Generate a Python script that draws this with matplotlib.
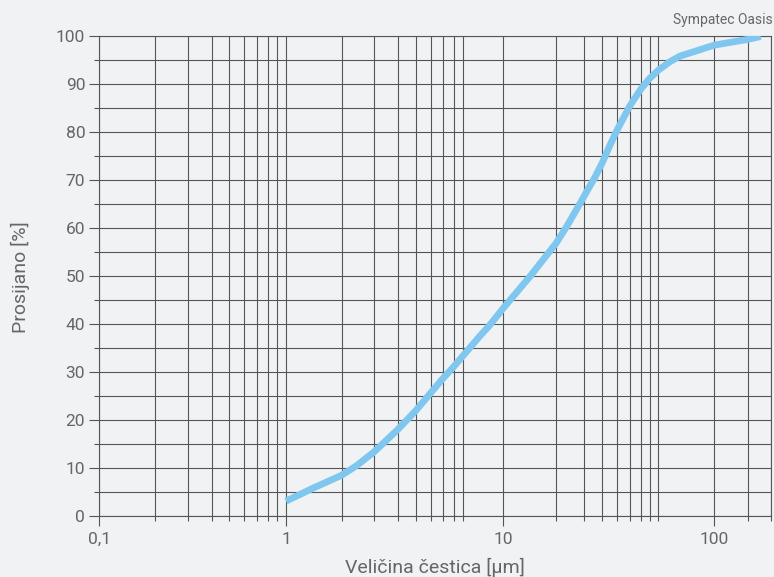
import numpy as np
import matplotlib
matplotlib.use('Agg')
import matplotlib.pyplot as plt
from matplotlib.ticker import FixedLocator, FuncFormatter, MultipleLocator

# particle size distribution (cumulative passing)
size_um = [1, 1.4, 2, 2.41, 3, 4, 5, 6, 7, 8, 9, 9.4, 9.62, 9.86, 10,
           14.2, 20, 23.3, 28.2, 30, 35.6, 40, 44.9, 50, 60, 70, 80, 90,
           91.9, 93.7, 100, 200, 250]
passing = [3.1, 5.8, 8.5, 10.5, 13.4, 18.0, 22.0, 25.8, 28.6, 31.1, 33.5, 37.5, 39.5, 41.9, 43.3,
           49.9, 56.8, 60.3, 65.1, 66.7, 70.6, 73.6, 77.3, 80.5, 85.5, 89.0, 91.2, 92.9,
           94.6, 95.8, 98.1, 99.3, 99.9]

major_x = [0.1, 1, 10, 100]
minor_x = [0.2, 0.3, 0.4, 0.5, 0.6, 0.7, 0.8, 0.9,
           2, 3, 4, 5, 6, 7, 8, 9,
           20, 30, 40, 50, 60, 70, 80, 90,
           200, 300]

# the printed chart's x axis is not a clean log axis: each grid value sits
# at its own spot, so build the scale from those spots (pixels from left)
axis_vals = [0.1, 0.2, 0.3, 0.4, 0.5, 0.6, 0.7, 0.8, 0.9,
             1, 2, 3, 4, 5, 6, 7, 8, 9,
             10, 20, 30, 40, 50, 60, 70, 80, 90,
             100, 200, 300]
axis_pos = [0, 55.7, 89.0, 112.4, 130.0, 145.0, 157.4, 168.4, 178.0,
            186.7, 242.4, 275.0, 298.4, 316.7, 332.0, 343.4, 354.4, 364.2,
            404.0, 456.7, 485.0, 503.0, 518.0, 530.7, 541.7, 550.5, 559.2,
            615.0, 648.7, 671.7]
log_vals = np.log10(axis_vals)


def fwd(x):
    x = np.asarray(x, dtype=float)
    return np.interp(np.log10(np.clip(x, 1e-6, None)), log_vals, axis_pos)


def inv(p):
    return 10 ** np.interp(p, axis_pos, log_vals)


bg = '#f1f2f4'
grid_c = '#555555'
text_c = '#666666'
plt.rcParams['font.family'] = ['Roboto', 'DejaVu Sans']

fig = plt.figure(figsize=(7.74, 5.77), dpi=100, facecolor=bg)
ax = fig.add_axes([99.3 / 774, 61 / 577, (771 - 99.3) / 774, 480 / 577])
ax.set_facecolor(bg)
ax.set_xscale('function', functions=(fwd, inv))
ax.set_xlim(0.1, 300)
ax.set_ylim(0, 100)

ax.xaxis.set_major_locator(FixedLocator(major_x))
ax.xaxis.set_minor_locator(FixedLocator(minor_x))
ax.xaxis.set_major_formatter(FuncFormatter(lambda v, _: ('%g' % v).replace('.', ',')))
ax.xaxis.set_minor_formatter(FuncFormatter(lambda v, _: ''))
ax.yaxis.set_major_locator(MultipleLocator(10))
ax.yaxis.set_minor_locator(MultipleLocator(5))

ax.grid(True, which='both', color=grid_c, lw=0.8)
ax.tick_params(which='major', length=7.2, width=0.8, color=grid_c,
               labelsize=12.5, labelcolor=text_c)
ax.tick_params(which='minor', length=3.3, width=0.8, color=grid_c)
ax.tick_params(axis='x', which='major', pad=4)
ax.tick_params(axis='y', which='major', pad=3)
for s in ax.spines.values():
    s.set_color(grid_c)
    s.set_linewidth(0.8)

ax.plot(size_um, passing, color='#7fc7ee', lw=4.9, solid_capstyle='butt',
        solid_joinstyle='round', zorder=3)

fig.text(435 / 774, 4 / 577, 'Veličina čestica [µm]', ha='center', va='baseline',
         fontsize=14, color=text_c)
fig.text(20 / 774, 1 - 277.5 / 577, 'Prosijano [%]', ha='center', va='center',
         rotation=90, fontsize=14, color=text_c)
fig.text(773 / 774, 1 - 20 / 577, 'Sympatec Oasis', ha='right', va='center',
         fontsize=10, color=text_c)

fig.savefig('out.png', dpi=100, facecolor=bg)
